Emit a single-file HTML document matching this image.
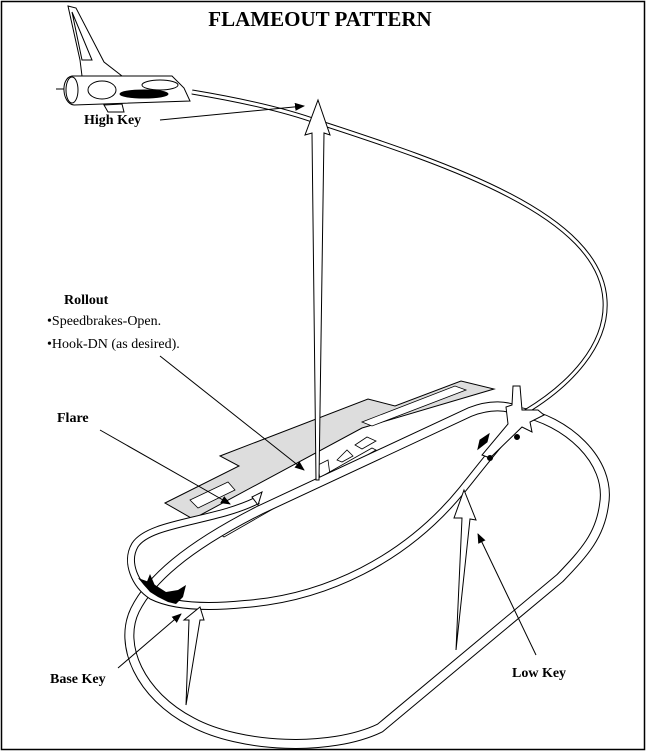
<!DOCTYPE html>
<html><head><meta charset="utf-8"><style>
html,body{margin:0;padding:0;background:#fff}
svg{display:block}
text{font-family:"Liberation Serif",serif;fill:#000}
</style></head><body>
<svg width="646" height="752" viewBox="0 0 646 752" xmlns="http://www.w3.org/2000/svg">
<defs>
<marker id="ah" markerWidth="10" markerHeight="8" refX="9" refY="4" orient="auto" markerUnits="userSpaceOnUse">
<path d="M0,0 L10,4 L0,8 z" fill="#000"/></marker>
</defs>
<rect x="1.5" y="1.5" width="643" height="748" fill="#fff" stroke="#000" stroke-width="1.5"/>
<text x="320" y="26" text-anchor="middle" font-size="21" font-weight="bold">FLAMEOUT PATTERN</text>

<!-- runway gray -->
<path d="M165,503 L239,466 L220,456 L368,399 L395,406 L461,381 L494,389 L362,428 L193,519 Z" fill="#ddd" stroke="#000" stroke-width="1"/>
<path d="M190,500 L228,482 L235,490 L198,508 Z" fill="#fff" stroke="#000" stroke-width="0.8"/>
<path d="M362,422 L455,386 L466,390 L372,426 Z" fill="#fff" stroke="#000" stroke-width="0.8"/>
<path d="M337,460 L347,450 L353,456 L342,462 Z" fill="#fff" stroke="#000" stroke-width="0.8"/>
<path d="M355,445 L367,437 L376,441 L362,449 Z" fill="#fff" stroke="#000" stroke-width="0.8"/>
<path d="M318,465 L328,460 L330,475 L320,480 Z" fill="#fff" stroke="#000" stroke-width="0.8"/>
<!-- runway stripe -->
<path d="M220,534 L372,448 L376,450 L224,537 Z" fill="#fff" stroke="#000" stroke-width="0.8"/>

<g fill="none" stroke-linejoin="round">
<path d="M520,412 C565,420 612,460 604,505 C600,535 585,552 560,578 L380,728 C330,752 240,748 192,722 C140,695 118,645 135,610 C150,580 185,548 260,510 L470,412 C490,404 508,405 520,412 Z" stroke="#000" stroke-width="10"/>
<path d="M520,412 C565,420 612,460 604,505 C600,535 585,552 560,578 L380,728 C330,752 240,748 192,722 C140,695 118,645 135,610 C150,580 185,548 260,510 L470,412 C490,404 508,405 520,412 Z" stroke="#fff" stroke-width="8"/>
<path d="M258,500 C215,522 150,522 135,545 C125,562 135,585 152,596 C172,606 205,608 245,604 C325,598 405,560 462,490 C490,455 508,432 526,414" stroke="#000" stroke-width="8"/>
<path d="M258,500 C215,522 150,522 135,545 C125,562 135,585 152,596 C172,606 205,608 245,604 C325,598 405,560 462,490 C490,455 508,432 526,414" stroke="#fff" stroke-width="6"/>
<path d="M192,92 C240,100 285,110 318,122 C450,165 600,215 605,300 C608,345 570,385 525,412" stroke="#000" stroke-width="5"/>
<path d="M192,92 C240,100 285,110 318,122 C450,165 600,215 605,300 C608,345 570,385 525,412" stroke="#fff" stroke-width="3"/>
</g>
<path d="M252,497 L262,492 L258,505 Z" fill="#fff" stroke="#000"/>

<!-- hollow arrows -->
<path d="M318,100 L330,135 L324,133 L319,480 L316,480 L312,133 L305,135 Z" fill="#fff" stroke="#000" stroke-width="1"/>
<path d="M200,607 L204,620 L200,620 L186,705 L189,620 L184,620 Z" fill="#fff" stroke="#000" stroke-width="1"/>
<path d="M464,490 L476,520 L470,519 L456,650 L462,518 L454,518 Z" fill="#fff" stroke="#000" stroke-width="1"/>

<g stroke="#000" stroke-width="1" fill="none">
<line x1="160" y1="120" x2="304" y2="106" marker-end="url(#ah)"/>
<line x1="160" y1="356" x2="304" y2="470" marker-end="url(#ah)"/>
<line x1="100" y1="430" x2="230" y2="504" marker-end="url(#ah)"/>
<line x1="118" y1="668" x2="181" y2="614" marker-end="url(#ah)"/>
<line x1="536" y1="655" x2="478" y2="534" marker-end="url(#ah)"/>
</g>
<text x="84" y="124" font-size="14" font-weight="bold">High Key</text>
<text x="64" y="304" font-size="14" font-weight="bold">Rollout</text>
<text x="47" y="325" font-size="14">•Speedbrakes-Open.</text>
<text x="47" y="348" font-size="14">•Hook-DN (as desired).</text>
<text x="57" y="422" font-size="14" font-weight="bold">Flare</text>
<text x="50" y="683" font-size="14" font-weight="bold">Base Key</text>
<text x="512" y="677" font-size="14" font-weight="bold">Low Key</text>

<!-- top plane -->
<g stroke="#000" stroke-width="1" fill="#fff">
<path d="M68,6 L76,8 L104,62 L122,76 L82,76 L80,60 Z"/>
<path d="M72,12 L82,60 L92,60 Z" fill="none"/>
<path d="M72,76 L172,76 L184,88 L190,101 L74,105 C62,104 60,78 72,76 Z"/>
<path d="M104,105 L108,112 L124,112 L122,104 Z"/>
<line x1="56" y1="89" x2="64" y2="89"/>
<ellipse cx="72" cy="90" rx="6" ry="13" fill="none"/>
<ellipse cx="102" cy="90" rx="14" ry="9" fill="none"/>
<ellipse cx="160" cy="85" rx="18" ry="5" fill="none"/>
<ellipse cx="144" cy="94" rx="24" ry="4" fill="#000"/>
</g>

<!-- base key plane silhouette -->
<path d="M138,578 L152,583 L166,592 L178,590 L186,585 L183,597 L176,604 L168,602 L158,597 L150,592 Z" fill="#000"/>
<path d="M146,584 L150,574 L156,588 Z" fill="#000"/>

<!-- low key plane -->
<g stroke="#000" stroke-width="1" fill="#fff">
<path d="M513,386 L520,386 L522,410 L538,410 L544,415 L530,422 L532,432 L522,427 L490,458 L482,455 L508,424 L506,407 L512,405 Z"/>
<path d="M480,440 L489,434 L487,442 L478,449 Z" fill="#000"/>
<circle cx="517" cy="437" r="2.5" fill="#000"/>
<circle cx="490" cy="458" r="2.5" fill="#000"/>
</g>
</svg>
</body></html>
